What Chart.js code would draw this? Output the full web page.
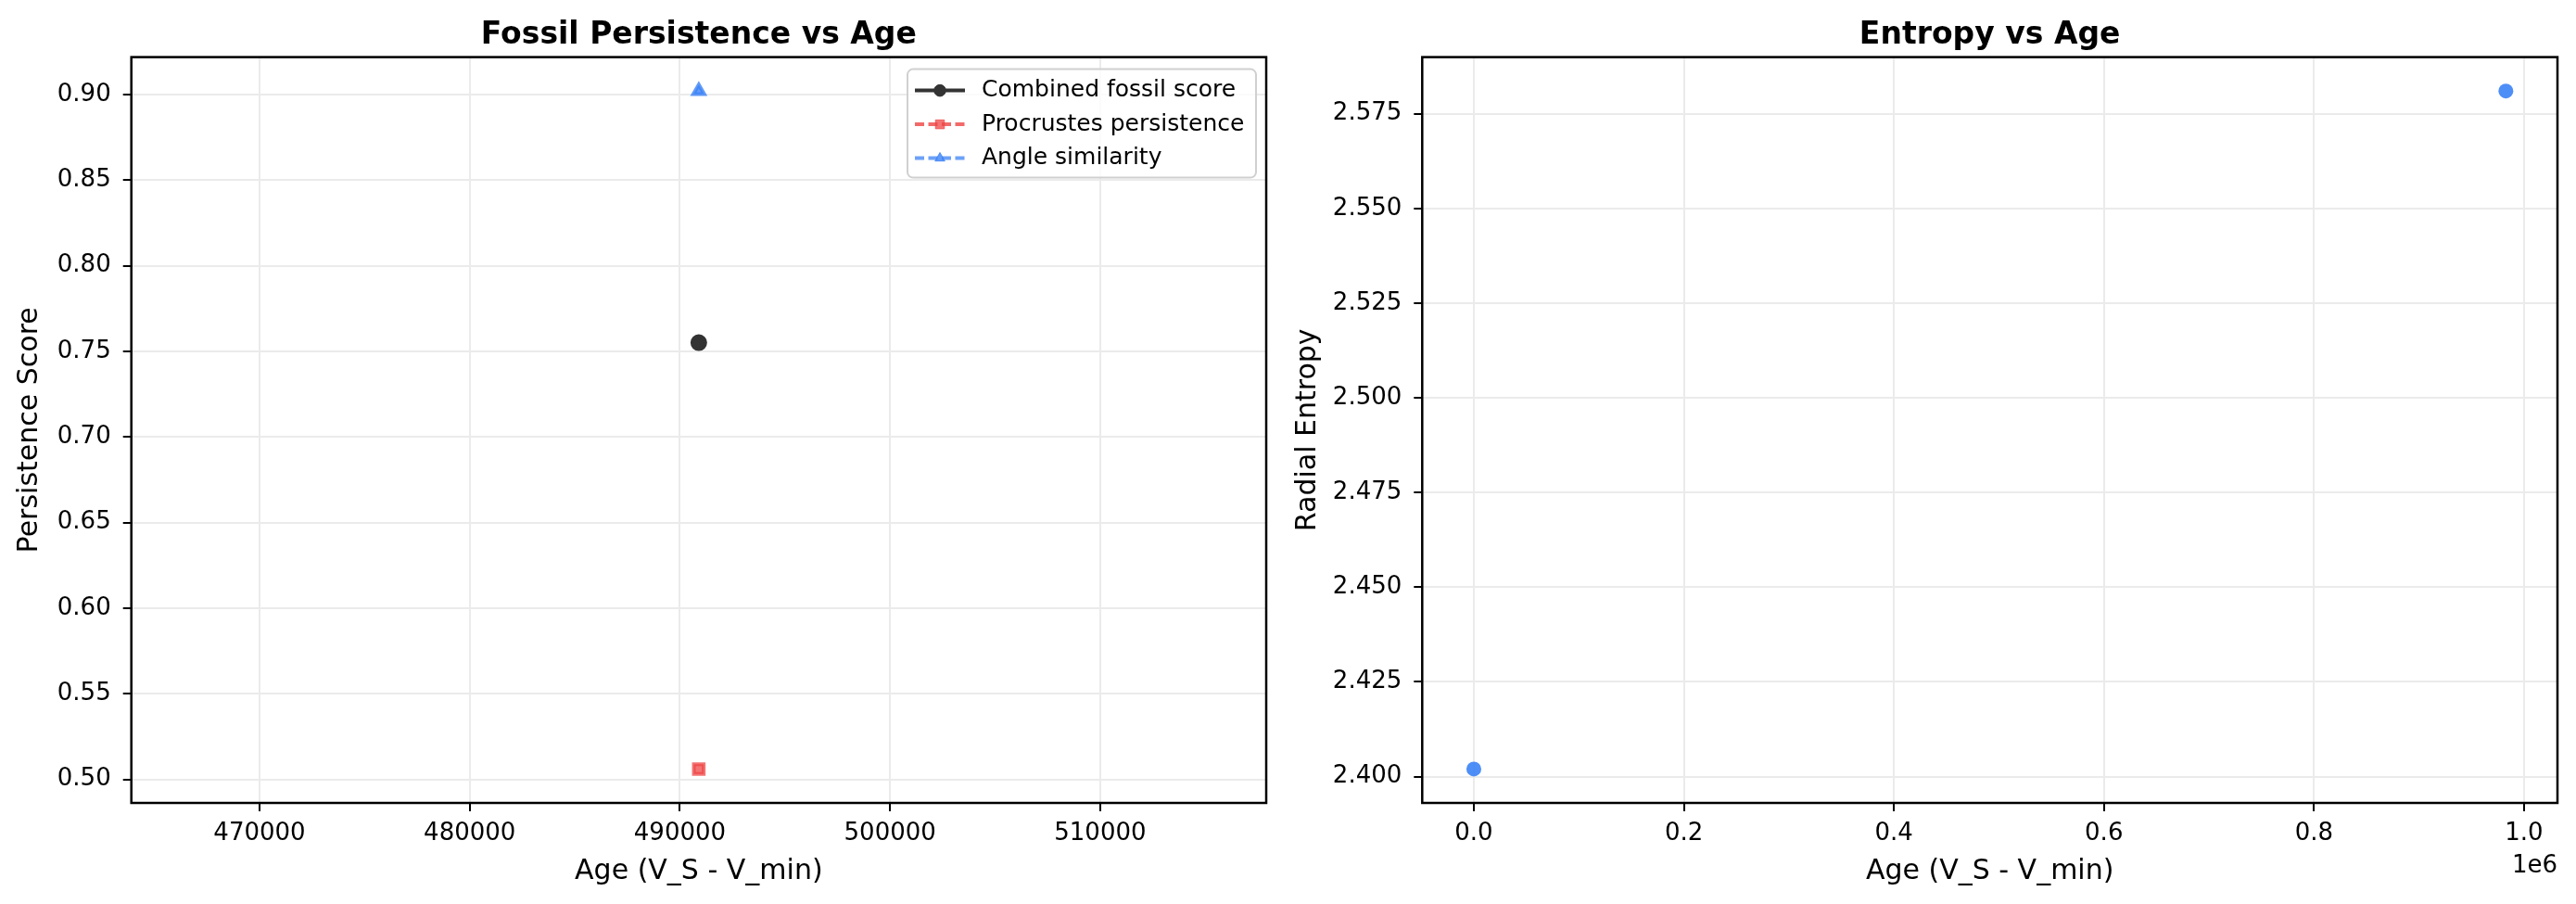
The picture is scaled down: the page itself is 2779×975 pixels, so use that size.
<!DOCTYPE html>
<html>
<head>
<meta charset="utf-8">
<script src="https://cdn.jsdelivr.net/npm/chart.js@4.4.1/dist/chart.umd.min.js"></script>
<style>
html, body { margin: 0; padding: 0; background: #fff; }
#wrap { position: relative; width: 2779px; height: 975px; }
canvas { position: absolute; top: 0; }
#left { left: 0; }
#right { left: 1390px; }
</style>
</head>
<body>
<div id="wrap">
<canvas id="left" width="1390" height="975"></canvas>
<canvas id="right" width="1389" height="975"></canvas>
</div>
<script>
// values
var fossilAge = [490900];
var combinedScore = [0.755];
var procrustesScore = [0.506];
var angleScore = [0.902];

var entropyAge = [0, 982700];
var radialEntropy = [2.402, 2.581];

var fossilAgeTicks = [470000, 480000, 490000, 500000, 510000];
var persistenceTicks = [0.50, 0.55, 0.60, 0.65, 0.70, 0.75, 0.80, 0.85, 0.90];
var entropyAgeTicks = [0, 200000, 400000, 600000, 800000, 1000000];
var entropyTicks = [2.400, 2.425, 2.450, 2.475, 2.500, 2.525, 2.550, 2.575];

Chart.defaults.font.family = '"DejaVu Sans", sans-serif';
Chart.defaults.color = '#000';

// autoscale like matplotlib: 5% margin, widen a single value first
function dataRange(values) {
    var lo = Math.min.apply(null, values), hi = Math.max.apply(null, values);
    if (lo === hi) {
        var d = Math.abs(lo) * 0.05 || 0.05;
        lo -= d; hi += d;
    }
    var m = (hi - lo) * 0.05;
    return { min: lo - m, max: hi + m };
}

function points(xs, ys) {
    return xs.map(function (x, i) { return { x: x, y: ys[i] }; });
}

function axis(range, ticks, fmt, title, isY, width, titlePad) {
    return {
        type: 'linear',
        min: range.min,
        max: range.max,
        afterBuildTicks: function (s) {
            s.ticks = ticks.map(function (v) { return { value: v }; });
        },
        afterFit: function (s) {
            if (isY) s.width = width; else s.height = width;
        },
        border: { display: false },
        grid: { color: '#ebebeb', lineWidth: 2, tickColor: '#000', tickWidth: 2, tickLength: 9 },
        ticks: { font: { size: 26 }, padding: isY ? 13 : 9, maxRotation: 0, autoSkip: false, callback: fmt },
        title: { display: true, text: title, font: { size: 30 }, padding: titlePad }
    };
}

function drawMarker(ctx, style, r, x, y) {
    ctx.beginPath();
    if (style === 'rect') {
        var s = r * Math.SQRT1_2;
        ctx.rect(x - s, y - s, 2 * s, 2 * s);
    } else if (style === 'triangle') {
        for (var k = 0; k < 3; k++) {
            var a = -Math.PI / 2 + k * 2 * Math.PI / 3;
            if (k === 0) ctx.moveTo(x + r * Math.cos(a), y + r * Math.sin(a));
            else ctx.lineTo(x + r * Math.cos(a), y + r * Math.sin(a));
        }
        ctx.closePath();
    } else {
        ctx.arc(x, y, r, 0, Math.PI * 2);
    }
    ctx.fill();
    ctx.stroke();
}

var frame = {
    id: 'frame',
    afterDatasetsDraw: function (chart) {
        var a = chart.chartArea, ctx = chart.ctx;
        ctx.save();
        ctx.strokeStyle = '#000';
        ctx.lineWidth = 2.5;
        ctx.strokeRect(a.left, a.top, a.right - a.left, a.bottom - a.top);
        ctx.restore();
    }
};

var boxLegend = {
    id: 'boxLegend',
    afterDraw: function (chart) {
        var a = chart.chartArea, ctx = chart.ctx;
        var w = 376, h = 117, x = a.right - 11 - w, y = a.top + 13;
        ctx.save();
        ctx.beginPath();
        ctx.roundRect(x, y, w, h, 6);
        ctx.fillStyle = 'rgba(255,255,255,0.8)';
        ctx.fill();
        ctx.strokeStyle = '#d0d0d0';
        ctx.lineWidth = 2;
        ctx.stroke();
        chart.data.datasets.forEach(function (ds, i) {
            var cy = y + 23 + i * 36.5;
            ctx.beginPath();
            ctx.setLineDash(ds.borderDash || []);
            ctx.strokeStyle = ds.borderColor;
            ctx.lineWidth = 4;
            ctx.moveTo(x + 8, cy);
            ctx.lineTo(x + 62, cy);
            ctx.stroke();
            ctx.setLineDash([]);
            ctx.fillStyle = ds.pointBackgroundColor;
            ctx.strokeStyle = ds.pointBorderColor;
            ctx.lineWidth = 1;
            drawMarker(ctx, ds.pointStyle, ds.pointRadius * 0.9, x + 35, cy);
            ctx.fillStyle = '#000';
            ctx.font = '25px "DejaVu Sans"';
            ctx.textBaseline = 'middle';
            ctx.textAlign = 'left';
            ctx.fillText(ds.label, x + 80, cy);
        });
        ctx.restore();
    }
};

var offsetLabel = {
    id: 'offsetLabel',
    afterDraw: function (chart) {
        var a = chart.chartArea, ctx = chart.ctx;
        ctx.save();
        ctx.fillStyle = '#000';
        ctx.font = '26px "DejaVu Sans"';
        ctx.textAlign = 'right';
        ctx.textBaseline = 'middle';
        ctx.fillText('1e6', a.right, 934);
        ctx.restore();
    }
};

function titleOpts(text) {
    return {
        display: true, text: text, fullSize: false, color: '#000',
        font: { size: 33, weight: 'bold' }, padding: { top: 19, bottom: 3 }
    };
}

var fossilX = dataRange(fossilAge);
var fossilY = dataRange(combinedScore.concat(procrustesScore, angleScore));

new Chart(document.getElementById('left').getContext('2d'), {
    type: 'line',
    data: {
        datasets: [{
            label: 'Combined fossil score',
            data: points(fossilAge, combinedScore),
            borderColor: '#333333', borderWidth: 4,
            pointStyle: 'circle', pointRadius: 7,
            pointBackgroundColor: '#333333', pointBorderColor: '#333333'
        }, {
            label: 'Procrustes persistence',
            data: points(fossilAge, procrustesScore),
            borderColor: 'rgba(239,68,68,0.8)', borderWidth: 4, borderDash: [10, 4.5],
            pointStyle: 'rect', pointRadius: 7.5,
            pointBackgroundColor: 'rgba(239,68,68,0.75)', pointBorderColor: 'rgba(239,68,68,0.75)'
        }, {
            label: 'Angle similarity',
            data: points(fossilAge, angleScore),
            borderColor: 'rgba(59,130,246,0.75)', borderWidth: 4, borderDash: [10, 4.5],
            pointStyle: 'triangle', pointRadius: 6.8,
            pointBackgroundColor: 'rgba(59,130,246,0.8)', pointBorderColor: 'rgba(59,130,246,0.8)'
        }]
    },
    options: {
        responsive: false, animation: false, devicePixelRatio: 1,
        layout: { padding: { left: 0, right: 24, top: 0, bottom: 0 } },
        plugins: { legend: { display: false }, tooltip: { enabled: false }, title: titleOpts('Fossil Persistence vs Age') },
        scales: {
            x: axis(fossilX, fossilAgeTicks, function (v) { return String(v); }, 'Age (V_S - V_min)', false, 109, { top: 0, bottom: 17 }),
            y: axis(fossilY, persistenceTicks, function (v) { return v.toFixed(2); }, 'Persistence Score', true, 141.7, { top: 14.5, bottom: 0 })
        }
    },
    plugins: [frame, boxLegend]
});

var entX = dataRange(entropyAge);
var entY = dataRange(radialEntropy);

new Chart(document.getElementById('right').getContext('2d'), {
    type: 'scatter',
    data: {
        datasets: [{
            label: 'Radial entropy',
            data: points(entropyAge, radialEntropy),
            pointRadius: 8, pointBorderWidth: 0,
            backgroundColor: 'rgba(59,130,246,0.9)', borderColor: 'rgba(59,130,246,0.9)'
        }]
    },
    options: {
        responsive: false, animation: false, devicePixelRatio: 1,
        layout: { padding: { left: 0, right: 20, top: 0, bottom: 0 } },
        plugins: { legend: { display: false }, tooltip: { enabled: false }, title: titleOpts('Entropy vs Age') },
        scales: {
            x: axis(entX, entropyAgeTicks, function (v) { return (v / 1e6).toFixed(1); }, 'Age (V_S - V_min)', false, 109, { top: 0, bottom: 17 }),
            y: axis(entY, entropyTicks, function (v) { return v.toFixed(3); }, 'Radial Entropy', true, 144.3, { top: 3, bottom: 0 })
        }
    },
    plugins: [frame, offsetLabel]
});
</script>
</body>
</html>
